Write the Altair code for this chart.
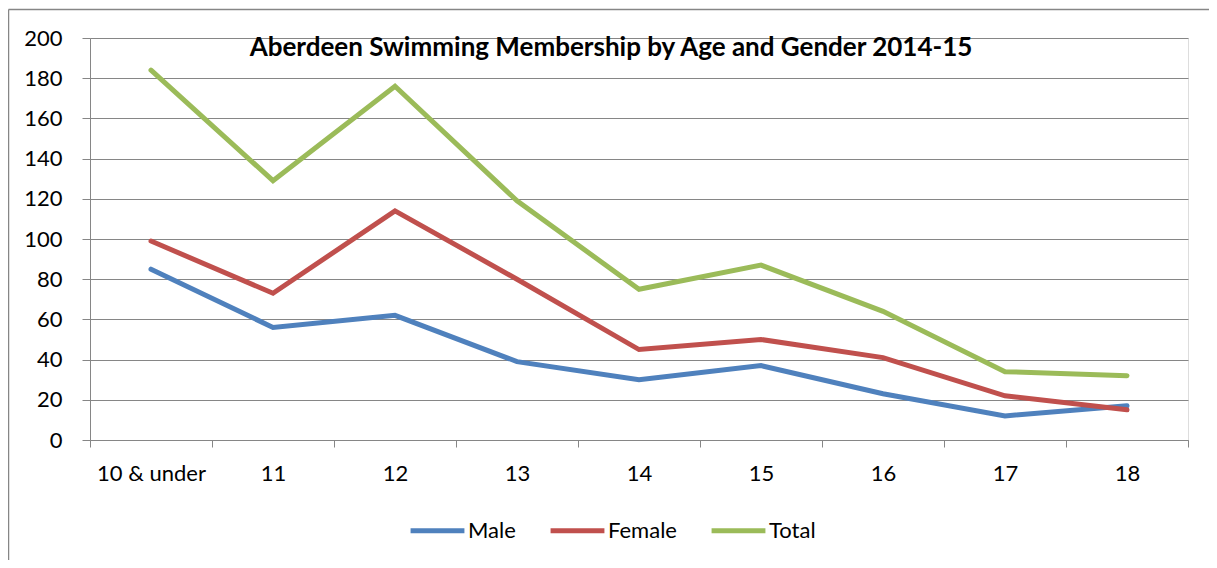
import altair as alt
import pandas as pd

ages = ["10 & under", "11", "12", "13", "14", "15", "16", "17", "18"]
male = [85, 56, 62, 39, 30, 37, 23, 12, 17]
female = [99, 73, 114, 80, 45, 50, 41, 22, 15]
total = [184, 129, 176, 119, 75, 87, 64, 34, 32]
series = ["Male", "Female", "Total"]
colors = ["#4F81BD", "#C0504D", "#9BBB59"]
title_text = "Aberdeen Swimming Membership by Age and Gender 2014-15"
y_ticks = list(range(0, 201, 20))

rows = []
for k, (s, vals) in enumerate(zip(series, [male, female, total])):
    for a, v in zip(ages, vals):
        rows.append({"Age": a, "Series": s, "Value": v, "k": k})
df = pd.DataFrame(rows)
one = pd.DataFrame({"a": [0]})

W, H = 1098, 402
FONT = "Lato"
FS = 22
GRAY = "#868686"

lines = alt.Chart(df).mark_line(strokeWidth=5, strokeCap="round").encode(
    x=alt.X("Age:N", sort=ages,
            scale=alt.Scale(type="band", paddingInner=0, paddingOuter=0),
            axis=alt.Axis(title=None, labelAngle=0, tickBand="extent", ticks=True,
                          tickSize=7, tickColor=GRAY, domainColor=GRAY, grid=False,
                          labelPadding=16, labelFontSize=FS, labelFont=FONT,
                          labelColor="black")),
    y=alt.Y("Value:Q", scale=alt.Scale(domain=[0, 200], nice=False),
            axis=alt.Axis(title=None, values=y_ticks, grid=True, gridColor=GRAY,
                          tickColor=GRAY, domainColor=GRAY, tickSize=8,
                          labelPadding=20, labelFontSize=FS, labelFont=FONT,
                          labelColor="black")),
    color=alt.Color("Series:N", scale=alt.Scale(domain=series, range=colors),
                    legend=alt.Legend(title=None, orient="none", legendX=318, legendY=463,
                                      direction="horizontal", symbolType="stroke",
                                      symbolSize=2900, symbolStrokeWidth=5,
                                      labelFontSize=FS, labelFont=FONT, labelOffset=1,
                                      columnPadding=24, labelColor="black")),
    order=alt.Order("k:Q"),
)

edges = alt.Chart(one).mark_rule(stroke=GRAY, strokeWidth=1.5)
left_edge = edges.encode(x=alt.value(-81.5), y=alt.value(-28.5), y2=alt.value(700))
top_edge = edges.encode(x=alt.value(-81.5), x2=alt.value(1300), y=alt.value(-28.5))

title = alt.Chart(one).mark_text(text=title_text, fontWeight="bold", fontSize=26, font=FONT,
                                 align="center", baseline="middle", color="black").encode(
    x=alt.value(521), y=alt.value(10)
)

chart = alt.layer(left_edge, top_edge, lines, title).properties(
    width=W, height=H,
    autosize=alt.AutoSizeParams(type="none"),
    padding={"left": 82, "top": 30, "right": 21, "bottom": 120},
).configure_view(stroke=None).configure(background="white")

chart.save("out.html", embed_options={"renderer": "svg", "actions": False})
